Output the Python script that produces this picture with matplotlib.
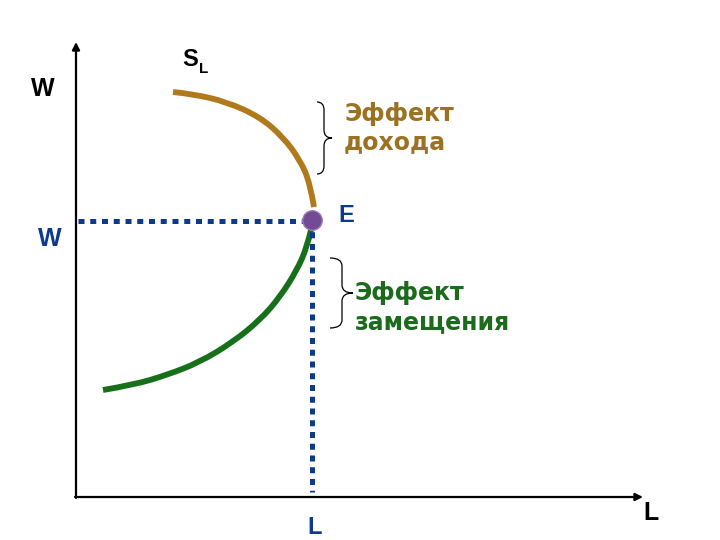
import matplotlib.pyplot as plt
from matplotlib.path import Path
import matplotlib.patches as patches

# Кривая предложения труда (верхняя часть) - эффект дохода
brown_x = [173, 193, 227, 260, 283, 300, 310, 314]
brown_y = [92, 94, 102, 117, 137, 160, 183, 207]

# Нижняя часть - эффект замещения
green_x = [103, 133, 167, 200, 233, 260, 280, 297, 307, 311]
green_y = [390, 385, 375, 362, 342, 320, 297, 270, 247, 230]

# Точка равновесия E
e_x, e_y = 312, 220

# Начало координат и концы осей
origin = (76, 497)
x_end = 643
y_end = 42

brown = '#b07a1c'
brown_txt = '#9c7222'
green = '#16701a'
green_txt = '#1c6a1c'
blue = '#0d3a8a'


def smooth_path(xs, ys):
    # точки служат контрольными, кривая идёт через середины отрезков
    pts = list(zip(xs, ys))
    verts = [pts[0]]
    codes = [Path.MOVETO]
    for i in range(1, len(pts) - 1):
        mx = (pts[i][0] + pts[i + 1][0]) / 2
        my = (pts[i][1] + pts[i + 1][1]) / 2
        if i == len(pts) - 2:
            mx, my = pts[-1]
        verts += [pts[i], (mx, my)]
        codes += [Path.CURVE3, Path.CURVE3]
    return Path(verts, codes)


def brace(ax, x0, x1, tip, top, bot, r=8):
    mid = (top + bot) / 2
    verts = [(x0, top), (x1, top), (x1, top + r),
             (x1, mid - r), (x1, mid), (tip, mid),
             (x1, mid), (x1, mid + r),
             (x1, bot - r), (x1, bot), (x0, bot)]
    codes = [Path.MOVETO, Path.CURVE3, Path.CURVE3,
             Path.LINETO, Path.CURVE3, Path.CURVE3,
             Path.CURVE3, Path.CURVE3,
             Path.LINETO, Path.CURVE3, Path.CURVE3]
    ax.add_patch(patches.PathPatch(Path(verts, codes), fill=False,
                                   lw=0.9, edgecolor='black'))


fig = plt.figure(figsize=(7.2, 5.4), dpi=100)
ax = fig.add_axes([0, 0, 1, 1])
ax.set_xlim(0, 720)
ax.set_ylim(540, 0)
ax.axis('off')

# Оси со стрелками
ax.annotate('', xy=(origin[0], y_end), xytext=(origin[0], origin[1] + 1),
            arrowprops=dict(arrowstyle='-|>', lw=1.6, color='black',
                            mutation_scale=11, shrinkA=0, shrinkB=0))
ax.annotate('', xy=(x_end, origin[1]), xytext=(origin[0] - 1, origin[1]),
            arrowprops=dict(arrowstyle='-|>', lw=1.6, color='black',
                            mutation_scale=11, shrinkA=0, shrinkB=0))

# Пунктирные линии к точке E
ax.plot([78, e_x], [e_y + 1, e_y + 1], color=blue, lw=3.6,
        dashes=(1.2, 1.15), dash_capstyle='butt')
ax.plot([e_x, e_x], [e_y, 492], color=blue, lw=3.6,
        dashes=(1.2, 1.15), dash_capstyle='butt')

# Кривые
ax.add_patch(patches.PathPatch(smooth_path(brown_x, brown_y), fill=False,
                               lw=4.2, edgecolor=brown, capstyle='butt'))
ax.add_patch(patches.PathPatch(smooth_path(green_x, green_y), fill=False,
                               lw=4.2, edgecolor=green, capstyle='butt'))

ax.plot(e_x, e_y, 'o', color='#734a94', markersize=14,
        markeredgecolor='#9a78b8', markeredgewidth=1, zorder=5)

# Фигурные скобки
brace(ax, 317, 324, 332, 102, 174)
brace(ax, 330, 342, 353, 258, 328)

# Подписи
bold = dict(fontfamily='Liberation Sans', fontweight='bold')
wide = dict(fontfamily='DejaVu Sans', fontweight='bold')
ax.text(43, 89, 'W', color='black', fontsize=18, ha='center', va='center', **bold)
ax.text(50, 239, 'W', color=blue, fontsize=18, ha='center', va='center', **bold)
ax.text(190, 60, 'S', color='black', fontsize=17, ha='center', va='center', **bold)
ax.text(204, 69, 'L', color='black', fontsize=11, ha='center', va='center', **bold)
ax.text(346, 215, 'E', color=blue, fontsize=17, ha='center', va='center', **bold)
ax.text(315, 527, 'L', color=blue, fontsize=17, ha='center', va='center', **bold)
ax.text(651, 513, 'L', color='black', fontsize=18, ha='center', va='center', **bold)

ax.text(344, 121, 'Эффект', color=brown_txt, fontsize=17,
        ha='left', va='baseline', **wide)
ax.text(344, 149, 'дохода', color=brown_txt, fontsize=17,
        ha='left', va='baseline', **wide)
ax.text(355, 300, 'Эффект', color=green_txt, fontsize=17,
        ha='left', va='baseline', **wide)
ax.text(355, 329, 'замещения', color=green_txt, fontsize=17,
        ha='left', va='baseline', **wide)

fig.savefig('out.png', dpi=100)
